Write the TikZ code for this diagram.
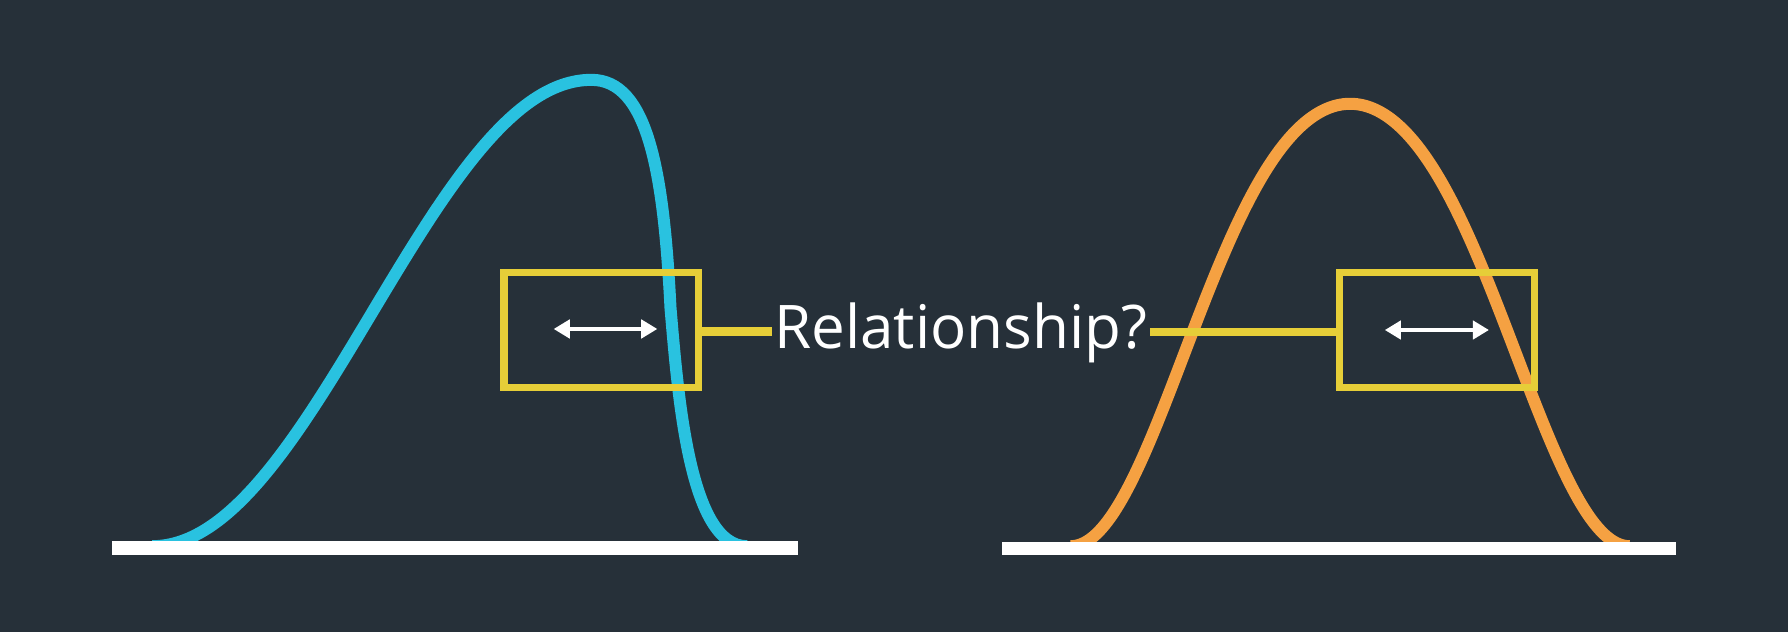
\documentclass[tikz,border=0pt]{standalone}
\usepackage{fontspec}
\setmainfont{Open Sans}
\usetikzlibrary{arrows.meta}
\definecolor{bgc}{HTML}{263039}
\definecolor{bluec}{HTML}{29C2E0}
\definecolor{orangec}{HTML}{F5A142}
\definecolor{yellowc}{HTML}{E6CE38}
\begin{document}
\begin{tikzpicture}[x=0.01cm,y=-0.01cm,
  distcurve/.style={line width=3pt, line cap=butt, line join=round},
  ybox/.style={draw=yellowc, line width=1.8pt, minimum width=1.705cm, minimum height=1.005cm, inner sep=0pt, outer sep=0pt},
  conn/.style={draw=yellowc, line width=2.1pt},
  axisline/.style={draw=white, line width=3.4pt},
  dbl/.style={white, line width=0.85pt, {Triangle[length=4pt,width=4.6pt]}-{Triangle[length=4pt,width=4.6pt]}},
  lbl/.style={text=white, font=\fontsize{15pt}{18pt}\selectfont, inner xsep=0.5pt, inner ysep=0pt}]
\fill[bgc] (0,0) rectangle (1568,554);
\useasboundingbox (0,0) rectangle (1568,554);
% skewed curve (blue): long left tail, steep right side
\draw[distcurve, draw=bluec]
  plot[domain=385:0, samples=120] ({518.6-\x}, {479-204.5*(1+cos(\x/385*180))})
  .. controls (568,70) and (582,150) .. (588,270)
  .. controls (594.8,350) and (605,479) .. (655,479);
% symmetric curve (orange)
\draw[distcurve, draw=orangec]
  plot[domain=-245:245, samples=200] ({1184+\x}, {479-194*(1+cos(\x/245*180))*(1.175-0.175*cos(\x/245*180))});
% baselines
\draw[axisline] (98,480.75) -- (700,480.75);
\draw[axisline] (879,481) -- (1470,481);
% boxes
\node[ybox] (lbox) at (527.25,289.25) {};
\node[ybox] (rbox) at (1260.25,289.25) {};
% label
\node[lbl, anchor=base] (rel) at (842.5,305.5) {Relationship?};
% connectors
\draw[conn] ([yshift=-0.4pt]lbox.east) -- ([yshift=-0.4pt]lbox.east -| rel.west);
\draw[conn] ([yshift=-0.5pt]rbox.west -| rel.east) -- ([yshift=-0.5pt]rbox.west);
% double arrows
\coordinate (la) at (485.6,288.5);
\coordinate (lb) at (576.4,288.5);
\coordinate (ra) at (1214.5,289.4);
\coordinate (rb) at (1305.7,289.4);
\draw[dbl] (la) -- (lb);
\draw[dbl] (ra) -- (rb);
\end{tikzpicture}
\end{document}
